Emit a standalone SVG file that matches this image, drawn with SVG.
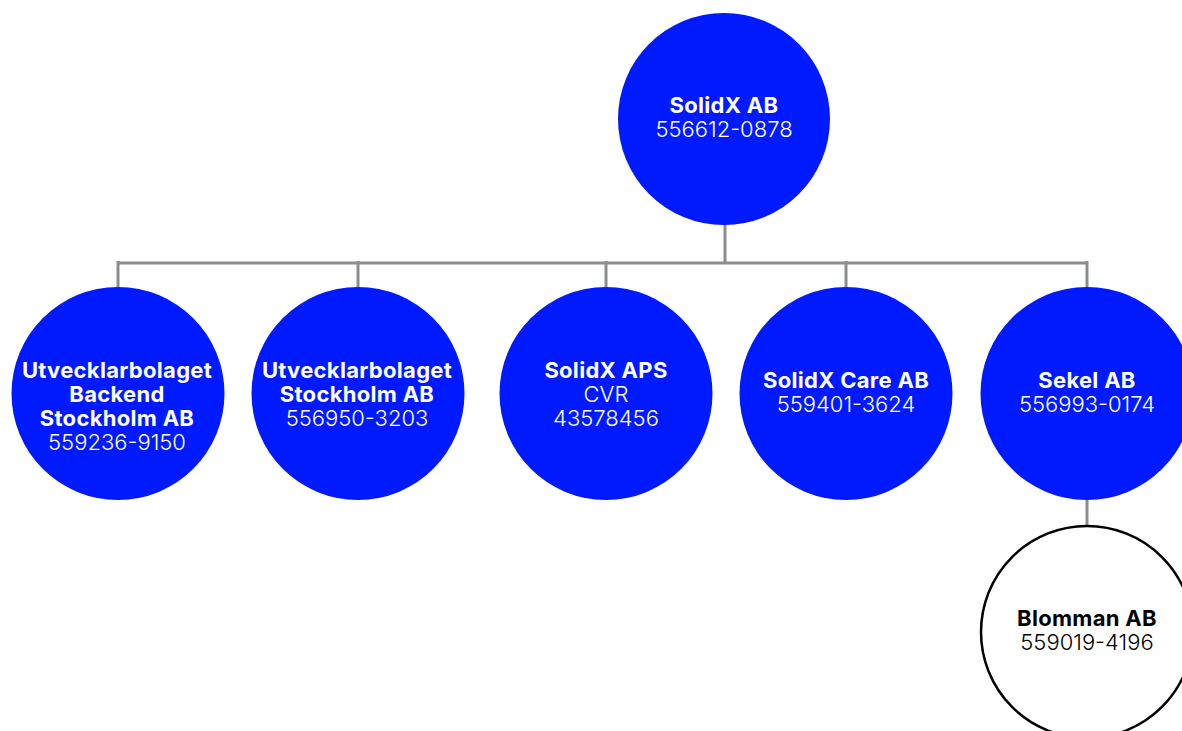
<svg xmlns="http://www.w3.org/2000/svg" width="1182" height="731" viewBox="0 0 1182 731">
<style>
.n{fill:#001AFF}
.w{fill:#fff;stroke:#000;stroke-width:2.5}
.c{stroke:#8c8c8c;stroke-width:3;fill:none}
text{font-family:Inter,"Liberation Sans",sans-serif;font-size:22px;text-anchor:middle}
.t{fill:#fff}
.k{fill:#000}
.b{font-weight:bold;letter-spacing:0.3px}
.r{font-weight:300}
</style>
<rect width="1182" height="731" fill="#fff"/>
<g id="connectors">
<path class="c" d="M725 225V263M118 263H1087M118 261V287M358 261V287M606 261V287M846 261V287M1087 261V287M1087 500V525"/>
</g>
<g id="solidx-ab">
<circle class="n" cx="724" cy="119" r="106"/>
<text class="t"><tspan class="b" x="724" y="113">SolidX AB</tspan><tspan class="r" x="724" y="137">556612-0878</tspan></text>
</g>
<g id="backend">
<circle class="n" cx="118" cy="393.5" r="106.5"/>
<text class="t"><tspan class="b" x="117" y="378">Utvecklarbolaget</tspan><tspan class="b" x="117" y="402">Backend</tspan><tspan class="b" x="117" y="426">Stockholm AB</tspan><tspan class="r" x="117" y="450">559236-9150</tspan></text>
</g>
<g id="stockholm">
<circle class="n" cx="358" cy="393.5" r="106.5"/>
<text class="t"><tspan class="b" x="357" y="378">Utvecklarbolaget</tspan><tspan class="b" x="357" y="402">Stockholm AB</tspan><tspan class="r" x="357" y="426">556950-3203</tspan></text>
</g>
<g id="aps">
<circle class="n" cx="606" cy="393.5" r="106.5"/>
<text class="t"><tspan class="b" x="606" y="378">SolidX APS</tspan><tspan class="r" x="606" y="402">CVR</tspan><tspan class="r" x="606" y="426">43578456</tspan></text>
</g>
<g id="care">
<circle class="n" cx="846" cy="393.5" r="106.5"/>
<text class="t"><tspan class="b" x="846" y="388">SolidX Care AB</tspan><tspan class="r" x="846" y="412">559401-3624</tspan></text>
</g>
<g id="sekel">
<circle class="n" cx="1087" cy="393.5" r="106.5"/>
<text class="t"><tspan class="b" x="1087" y="388">Sekel AB</tspan><tspan class="r" x="1087" y="412">556993-0174</tspan></text>
</g>
<g id="blomman">
<circle class="w" cx="1087" cy="632" r="106"/>
<text class="k"><tspan class="b" x="1087" y="626">Blomman AB</tspan><tspan class="r" x="1087" y="650">559019-4196</tspan></text>
</g>
</svg>
